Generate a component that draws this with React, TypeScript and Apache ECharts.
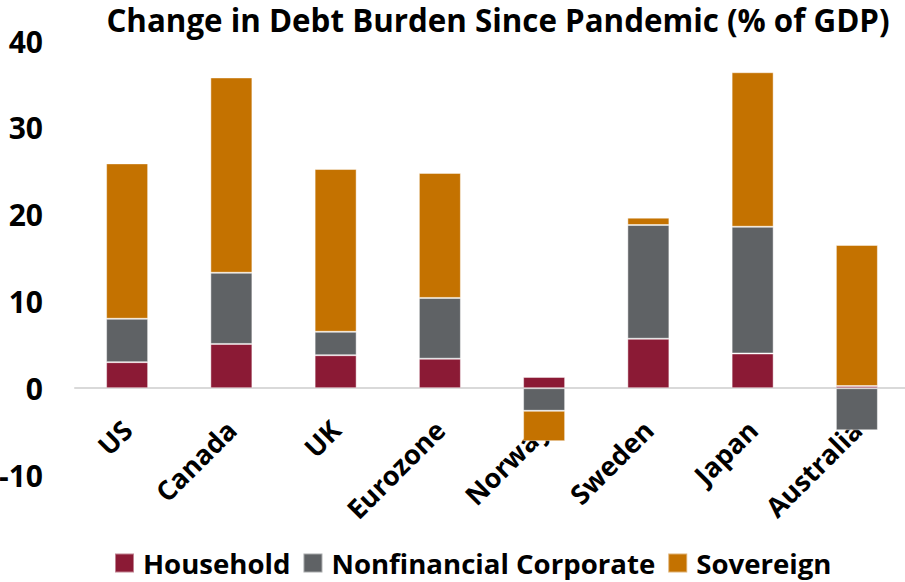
import React, { useEffect, useRef } from "react";
import * as echarts from "echarts";

const categories = ["US", "Canada", "UK", "Eurozone", "Norway", "Sweden", "Japan", "Australia"];
const household = [3.0, 5.1, 3.8, 3.4, 1.3, 5.7, 4.0, 0.25];
const nonfinancial = [5.0, 8.2, 2.7, 7.0, -2.6, 13.1, 14.6, -4.85];
const sovereign = [17.9, 22.5, 18.75, 14.4, -3.5, 0.85, 17.8, 16.25];
const yTicks = { min: -10, max: 40, interval: 10 };

const FONT = "'Open Sans', sans-serif";

export default function App() {
  const ref = useRef<HTMLDivElement>(null);
  useEffect(() => {
    if (!ref.current) return;
    const chart = echarts.init(ref.current, undefined, { renderer: "svg" });
    const border = { borderColor: "rgba(255,255,255,0.45)", borderWidth: 1 };
    chart.setOption({
      animation: false,
      textStyle: { fontFamily: FONT },
      title: {
        text: "Change in Debt Burden Since Pandemic (% of GDP)",
        left: 493,
        textAlign: "center",
        top: -1,
        textStyle: { fontFamily: FONT, fontSize: 31.3, fontWeight: "bold", color: "#000" },
      },
      legend: {
        top: 543,
        left: 109,
        icon: "rect",
        itemWidth: 19,
        itemHeight: 19,
        itemGap: 12,
        textStyle: {
          fontFamily: FONT,
          fontSize: 27.6,
          lineHeight: 30,
          fontWeight: "bold",
          color: "#000",
          padding: [0, 0, 0, 4],
        },
        data: ["Household", "Nonfinancial Corporate", "Sovereign"],
      },
      grid: { left: 75, right: -4, top: 41, bottom: 107, containLabel: false, outerBoundsMode: "none" },
      xAxis: {
        type: "category",
        data: categories,
        axisLine: { lineStyle: { color: "#d9d9d9", width: 2 } },
        axisTick: { show: false },
        axisLabel: {
          rotate: 45,
          margin: -50,
          interval: 0,
          align: "right",
          verticalAlign: "middle",
          fontFamily: FONT,
          fontSize: 27,
          fontWeight: "bold",
          color: "#000",
        },
      },
      yAxis: {
        type: "value",
        min: yTicks.min,
        max: yTicks.max,
        interval: yTicks.interval,
        splitLine: { show: false },
        axisLine: { show: false },
        axisTick: { show: false },
        axisLabel: { margin: 32, fontFamily: FONT, fontSize: 30, fontWeight: "bold", color: "#000" },
      },
      series: [
        {
          name: "Household",
          type: "bar",
          stack: "total",
          barWidth: 42,
          data: household,
          itemStyle: { color: "#8b1a35", ...border },
        },
        {
          name: "Nonfinancial Corporate",
          type: "bar",
          stack: "total",
          barWidth: 42,
          data: nonfinancial,
          itemStyle: { color: "#5f6265", ...border },
        },
        {
          name: "Sovereign",
          type: "bar",
          stack: "total",
          barWidth: 42,
          data: sovereign,
          itemStyle: { color: "#c47200", ...border },
        },
      ],
    });
    return () => chart.dispose();
  }, []);
  return (
    <div
      ref={ref}
      style={{ position: "fixed", left: 0, top: 0, width: 905, height: 582, background: "#fff" }}
    />
  );
}
